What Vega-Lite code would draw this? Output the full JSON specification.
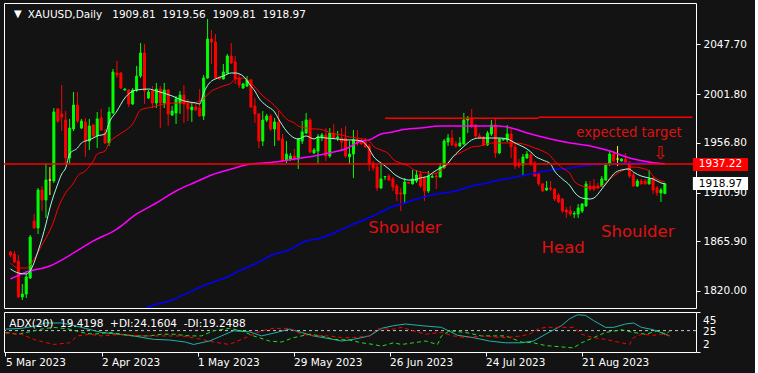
{
"$schema": "https://vega.github.io/schema/vega-lite/v6.json",
"background": "#131313",
"padding": {"left": 2, "top": 2, "right": 6, "bottom": 6},
"spacing": 2,
"config": {
  "view": {"stroke": "#ffffff", "strokeWidth": 1},
  "font": "DejaVu Sans",
  "axis": {"domain": false, "grid": false, "tickColor": "#ffffff", "labelColor": "#ffffff", "labelFont": "DejaVu Sans", "labelFontSize": 10.5, "labelOverlap": false}
},
"datasets": {
"one": [{}],
"lv": [{"v": 35.3, "t": "45"}, {"v": 23.5, "t": "25"}, {"v": 9.8, "t": "2"}],
"c": [
{"i":0,"o":1856.0,"h":1856.9,"l":1851.4,"c":1853.2},
{"i":1,"o":1854.2,"h":1856.9,"l":1845.8,"c":1846.8},
{"i":2,"o":1847.7,"h":1853.2,"l":1813.5,"c":1814.5},
{"i":3,"o":1814.5,"h":1826.5,"l":1811.7,"c":1817.2},
{"i":4,"o":1817.2,"h":1835.7,"l":1813.5,"c":1832.9},
{"i":5,"o":1832.0,"h":1871.7,"l":1831.1,"c":1869.8},
{"i":6,"o":1884.6,"h":1891.1,"l":1877.2,"c":1878.2},
{"i":7,"o":1878.2,"h":1915.1,"l":1872.6,"c":1913.2},
{"i":8,"o":1913.2,"h":1916.9,"l":1893.8,"c":1904.0},
{"i":9,"o":1904.0,"h":1938.1,"l":1887.4,"c":1922.4},
{"i":10,"o":1922.4,"h":1934.4,"l":1908.6,"c":1922.4},
{"i":11,"o":1921.5,"h":1988.9,"l":1919.7,"c":1985.2},
{"i":12,"o":1988.0,"h":1988.9,"l":1975.1,"c":1976.9},
{"i":13,"o":1983.4,"h":2010.1,"l":1967.7,"c":1980.6},
{"i":14,"o":1977.8,"h":1986.1,"l":1937.2,"c":1942.8},
{"i":15,"o":1942.8,"h":1978.8,"l":1937.2,"c":1970.4},
{"i":16,"o":1969.5,"h":2003.7,"l":1967.7,"c":1991.7},
{"i":17,"o":1991.7,"h":2003.7,"l":1975.1,"c":1976.9},
{"i":18,"o":1970.4,"h":1978.8,"l":1969.5,"c":1976.9},
{"i":19,"o":1976.0,"h":1979.7,"l":1943.7,"c":1958.4},
{"i":20,"o":1958.4,"h":1978.8,"l":1950.1,"c":1972.3},
{"i":21,"o":1973.2,"h":1974.1,"l":1961.2,"c":1963.1},
{"i":22,"o":1963.1,"h":1985.2,"l":1952.0,"c":1978.8},
{"i":23,"o":1979.7,"h":1988.0,"l":1967.7,"c":1968.6},
{"i":24,"o":1965.8,"h":1969.5,"l":1955.7,"c":1956.6},
{"i":25,"o":1956.6,"h":1989.8,"l":1953.8,"c":1985.2},
{"i":26,"o":1984.3,"h":2024.9,"l":1983.4,"c":2022.1},
{"i":27,"o":2021.2,"h":2032.3,"l":2016.6,"c":2019.4},
{"i":28,"o":2021.2,"h":2022.1,"l":2006.4,"c":2007.4},
{"i":29,"o":2005.5,"h":2007.0,"l":2005.0,"c":2006.4},
{"i":30,"o":2005.5,"h":2006.4,"l":1989.8,"c":1992.6},
{"i":31,"o":1992.6,"h":2007.4,"l":1991.7,"c":2005.5},
{"i":32,"o":2005.5,"h":2027.7,"l":2003.7,"c":2018.4},
{"i":33,"o":2018.4,"h":2048.9,"l":2016.6,"c":2039.7},
{"i":34,"o":2039.7,"h":2048.0,"l":1992.6,"c":2004.6},
{"i":35,"o":1998.1,"h":2005.5,"l":1997.2,"c":2003.7},
{"i":36,"o":2004.6,"h":2009.2,"l":1988.9,"c":1993.5},
{"i":37,"o":1993.5,"h":2012.0,"l":1988.9,"c":2006.4},
{"i":38,"o":2006.4,"h":2009.2,"l":1970.4,"c":1993.5},
{"i":39,"o":1993.5,"h":2012.0,"l":1988.9,"c":2005.5},
{"i":40,"o":2005.5,"h":2006.4,"l":1972.3,"c":1983.4},
{"i":41,"o":1982.4,"h":1990.8,"l":1981.5,"c":1986.1},
{"i":42,"o":1984.3,"h":2000.0,"l":1974.1,"c":1997.2},
{"i":43,"o":1993.5,"h":2004.6,"l":1983.4,"c":2000.9},
{"i":44,"o":2000.9,"h":2010.1,"l":1975.1,"c":1992.6},
{"i":45,"o":1992.6,"h":1997.2,"l":1976.9,"c":1988.0},
{"i":46,"o":1987.1,"h":1994.4,"l":1976.0,"c":1989.8},
{"i":47,"o":1989.8,"h":1992.6,"l":1986.1,"c":1987.1},
{"i":48,"o":1988.9,"h":2006.4,"l":1980.6,"c":1981.5},
{"i":49,"o":1981.5,"h":2019.4,"l":1977.8,"c":2016.6},
{"i":50,"o":2016.6,"h":2071.1,"l":2015.7,"c":2052.6},
{"i":51,"o":2052.6,"h":2060.9,"l":2029.5,"c":2049.8},
{"i":52,"o":2049.8,"h":2057.2,"l":2015.7,"c":2016.6},
{"i":53,"o":2017.5,"h":2018.0,"l":2015.2,"c":2015.7},
{"i":54,"o":2015.7,"h":2029.5,"l":2015.2,"c":2022.1},
{"i":55,"o":2021.2,"h":2038.8,"l":2020.3,"c":2036.9},
{"i":56,"o":2036.9,"h":2048.9,"l":2029.5,"c":2030.4},
{"i":57,"o":2031.4,"h":2036.9,"l":2011.1,"c":2015.7},
{"i":58,"o":2016.6,"h":2020.3,"l":2007.4,"c":2010.1},
{"i":59,"o":2007.4,"h":2012.0,"l":2006.4,"c":2011.1},
{"i":60,"o":2009.2,"h":2018.4,"l":2008.3,"c":2014.8},
{"i":61,"o":2014.8,"h":2015.7,"l":1988.9,"c":1989.8},
{"i":62,"o":1990.8,"h":1998.1,"l":1975.1,"c":1983.4},
{"i":63,"o":1983.4,"h":1984.3,"l":1952.0,"c":1958.4},
{"i":64,"o":1958.4,"h":1986.1,"l":1953.8,"c":1977.8},
{"i":65,"o":1977.8,"h":1983.4,"l":1976.0,"c":1981.5},
{"i":66,"o":1981.5,"h":1983.4,"l":1967.7,"c":1969.5},
{"i":67,"o":1969.5,"h":1979.7,"l":1953.8,"c":1976.0},
{"i":68,"o":1976.0,"h":1986.1,"l":1958.4,"c":1959.4},
{"i":69,"o":1960.3,"h":1964.9,"l":1939.1,"c":1940.0},
{"i":70,"o":1940.9,"h":1958.4,"l":1938.1,"c":1946.4},
{"i":71,"o":1941.8,"h":1947.4,"l":1940.0,"c":1944.6},
{"i":72,"o":1944.6,"h":1951.1,"l":1940.0,"c":1941.8},
{"i":73,"o":1941.8,"h":1961.2,"l":1932.6,"c":1960.3},
{"i":74,"o":1958.4,"h":1976.9,"l":1955.7,"c":1966.8},
{"i":75,"o":1965.8,"h":1984.3,"l":1964.9,"c":1977.8},
{"i":76,"o":1977.8,"h":1979.7,"l":1947.4,"c":1948.3},
{"i":77,"o":1947.4,"h":1952.0,"l":1946.4,"c":1950.1},
{"i":78,"o":1949.2,"h":1964.9,"l":1938.1,"c":1962.1},
{"i":79,"o":1961.2,"h":1965.8,"l":1958.4,"c":1964.0},
{"i":80,"o":1964.0,"h":1970.4,"l":1940.0,"c":1944.6},
{"i":81,"o":1944.6,"h":1970.4,"l":1942.8,"c":1965.8},
{"i":82,"o":1965.8,"h":1974.1,"l":1960.3,"c":1961.2},
{"i":83,"o":1961.2,"h":1967.7,"l":1958.4,"c":1962.1},
{"i":84,"o":1961.2,"h":1970.4,"l":1949.2,"c":1957.5},
{"i":85,"o":1961.2,"h":1972.3,"l":1942.8,"c":1944.6},
{"i":86,"o":1943.7,"h":1958.4,"l":1937.2,"c":1946.4},
{"i":87,"o":1946.4,"h":1968.6,"l":1924.3,"c":1959.4},
{"i":88,"o":1959.4,"h":1968.6,"l":1953.8,"c":1957.5},
{"i":89,"o":1958.4,"h":1961.2,"l":1955.2,"c":1955.7},
{"i":90,"o":1957.5,"h":1961.2,"l":1952.0,"c":1952.9},
{"i":91,"o":1953.8,"h":1955.7,"l":1930.8,"c":1938.1},
{"i":92,"o":1938.1,"h":1940.0,"l":1930.8,"c":1933.5},
{"i":93,"o":1934.4,"h":1937.2,"l":1912.3,"c":1915.1},
{"i":94,"o":1915.1,"h":1938.1,"l":1914.1,"c":1923.4},
{"i":95,"o":1925.2,"h":1926.1,"l":1922.4,"c":1925.6},
{"i":96,"o":1926.1,"h":1928.0,"l":1921.5,"c":1922.4},
{"i":97,"o":1923.4,"h":1925.2,"l":1912.3,"c":1916.0},
{"i":98,"o":1916.9,"h":1918.8,"l":1903.1,"c":1909.5},
{"i":99,"o":1910.5,"h":1915.1,"l":1893.8,"c":1909.5},
{"i":100,"o":1909.5,"h":1924.3,"l":1900.3,"c":1920.6},
{"i":101,"o":1920.3,"h":1920.6,"l":1919.2,"c":1919.5},
{"i":102,"o":1918.8,"h":1931.7,"l":1918.3,"c":1923.4},
{"i":103,"o":1921.5,"h":1931.7,"l":1919.7,"c":1927.1},
{"i":104,"o":1928.0,"h":1930.8,"l":1915.1,"c":1916.9},
{"i":105,"o":1924.3,"h":1926.1,"l":1903.1,"c":1912.3},
{"i":106,"o":1912.3,"h":1930.8,"l":1910.5,"c":1926.1},
{"i":107,"o":1925.0,"h":1928.0,"l":1924.3,"c":1925.7},
{"i":108,"o":1926.1,"h":1928.9,"l":1914.1,"c":1925.3},
{"i":109,"o":1925.2,"h":1938.1,"l":1924.3,"c":1934.4},
{"i":110,"o":1933.5,"h":1960.3,"l":1933.0,"c":1958.4},
{"i":111,"o":1957.5,"h":1964.9,"l":1953.8,"c":1961.2},
{"i":112,"o":1961.2,"h":1968.6,"l":1953.8,"c":1954.8},
{"i":113,"o":1955.7,"h":1958.4,"l":1952.0,"c":1953.8},
{"i":114,"o":1953.8,"h":1962.1,"l":1952.9,"c":1956.6},
{"i":115,"o":1955.7,"h":1984.3,"l":1954.8,"c":1977.8},
{"i":116,"o":1977.8,"h":1981.5,"l":1965.8,"c":1979.7},
{"i":117,"o":1979.7,"h":1988.0,"l":1970.4,"c":1972.3},
{"i":118,"o":1973.2,"h":1974.1,"l":1961.2,"c":1963.1},
{"i":119,"o":1963.1,"h":1965.8,"l":1960.3,"c":1961.2},
{"i":120,"o":1962.1,"h":1963.1,"l":1953.8,"c":1954.8},
{"i":121,"o":1954.8,"h":1967.7,"l":1953.8,"c":1965.8},
{"i":122,"o":1964.9,"h":1977.8,"l":1963.1,"c":1973.2},
{"i":123,"o":1973.2,"h":1978.8,"l":1942.8,"c":1947.4},
{"i":124,"o":1947.4,"h":1961.2,"l":1946.4,"c":1960.3},
{"i":125,"o":1959.4,"h":1961.2,"l":1958.9,"c":1960.0},
{"i":126,"o":1959.4,"h":1973.2,"l":1957.5,"c":1964.9},
{"i":127,"o":1964.9,"h":1969.5,"l":1942.8,"c":1952.9},
{"i":128,"o":1952.9,"h":1956.6,"l":1932.6,"c":1935.4},
{"i":129,"o":1938.1,"h":1941.8,"l":1933.5,"c":1935.4},
{"i":130,"o":1936.3,"h":1946.4,"l":1926.1,"c":1943.7},
{"i":131,"o":1942.8,"h":1949.2,"l":1941.8,"c":1946.4},
{"i":132,"o":1945.5,"h":1947.4,"l":1935.4,"c":1937.2},
{"i":133,"o":1938.1,"h":1940.0,"l":1925.2,"c":1926.1},
{"i":134,"o":1928.0,"h":1928.9,"l":1916.9,"c":1918.8},
{"i":135,"o":1918.8,"h":1919.7,"l":1911.4,"c":1912.3},
{"i":136,"o":1913.2,"h":1921.5,"l":1912.3,"c":1915.1},
{"i":137,"o":1915.1,"h":1921.5,"l":1912.3,"c":1914.1},
{"i":138,"o":1914.1,"h":1915.1,"l":1903.1,"c":1904.9},
{"i":139,"o":1908.6,"h":1910.5,"l":1901.2,"c":1902.1},
{"i":140,"o":1904.9,"h":1905.8,"l":1892.0,"c":1893.8},
{"i":141,"o":1894.8,"h":1897.5,"l":1887.4,"c":1892.9},
{"i":142,"o":1893.8,"h":1898.5,"l":1889.2,"c":1891.1},
{"i":143,"o":1891.0,"h":1893.8,"l":1887.4,"c":1891.6},
{"i":144,"o":1891.1,"h":1900.3,"l":1887.4,"c":1896.6},
{"i":145,"o":1893.8,"h":1901.2,"l":1892.0,"c":1900.3},
{"i":146,"o":1898.5,"h":1921.5,"l":1897.5,"c":1918.8},
{"i":147,"o":1916.9,"h":1921.5,"l":1912.3,"c":1914.1},
{"i":148,"o":1916.9,"h":1923.4,"l":1912.3,"c":1914.1},
{"i":149,"o":1916.9,"h":1919.7,"l":1914.1,"c":1915.1},
{"i":150,"o":1916.9,"h":1926.1,"l":1916.0,"c":1923.4},
{"i":151,"o":1922.4,"h":1938.1,"l":1921.5,"c":1937.2},
{"i":152,"o":1937.2,"h":1950.1,"l":1935.4,"c":1946.4},
{"i":153,"o":1946.4,"h":1949.2,"l":1939.1,"c":1940.0},
{"i":154,"o":1941.8,"h":1953.8,"l":1935.4,"c":1941.8},
{"i":155,"o":1940.0,"h":1942.3,"l":1939.5,"c":1941.8},
{"i":156,"o":1941.8,"h":1947.4,"l":1937.2,"c":1938.1},
{"i":157,"o":1939.1,"h":1940.0,"l":1924.3,"c":1926.1},
{"i":158,"o":1927.1,"h":1928.9,"l":1916.0,"c":1916.9},
{"i":159,"o":1916.9,"h":1923.4,"l":1916.0,"c":1921.5},
{"i":160,"o":1921.5,"h":1923.4,"l":1918.3,"c":1918.8},
{"i":161,"o":1921.5,"h":1923.4,"l":1918.3,"c":1918.8},
{"i":162,"o":1918.8,"h":1931.7,"l":1918.3,"c":1923.4},
{"i":163,"o":1924.3,"h":1924.8,"l":1909.5,"c":1913.2},
{"i":164,"o":1915.1,"h":1916.9,"l":1907.7,"c":1910.5},
{"i":165,"o":1910.5,"h":1915.1,"l":1902.1,"c":1913.2},
{"i":166,"o":1909.81,"h":1919.56,"l":1909.81,"c":1918.97}
],
"cy": [
{"i":0,"p":1840.3},{"i":2,"p":1836.6},{"i":4,"p":1835.7},{"i":5,"p":1838.5},{"i":7,"p":1856.9},{"i":9,"p":1881.8},{"i":10,"p":1896.6},{"i":12,"p":1918.8},{"i":13,"p":1928.0},{"i":14,"p":1933.5},{"i":15,"p":1946.4},{"i":17,"p":1952.0},{"i":18,"p":1956.6},{"i":19,"p":1958.4},{"i":20,"p":1959.4},{"i":22,"p":1963.1},{"i":24,"p":1964.9},{"i":25,"p":1975.1},{"i":27,"p":1986.1},{"i":29,"p":1998.1},{"i":32,"p":2005.5},{"i":35,"p":2006.4},{"i":37,"p":2004.6},{"i":41,"p":2000.0},{"i":44,"p":1995.4},{"i":47,"p":1993.5},{"i":48,"p":1992.6},{"i":49,"p":2002.8},{"i":51,"p":2013.8},{"i":52,"p":2015.7},{"i":54,"p":2018.4},{"i":56,"p":2021.2},{"i":57,"p":2021.2},{"i":59,"p":2018.4},{"i":61,"p":2009.2},{"i":62,"p":2004.6},{"i":63,"p":1998.1},{"i":65,"p":1990.8},{"i":67,"p":1985.2},{"i":68,"p":1978.8},{"i":70,"p":1967.7},{"i":72,"p":1961.2},{"i":73,"p":1960.3},{"i":75,"p":1963.1},{"i":77,"p":1960.3},{"i":78,"p":1962.1},{"i":80,"p":1961.2},{"i":83,"p":1960.3},{"i":85,"p":1959.4},{"i":87,"p":1959.4},{"i":89,"p":1958.4},{"i":91,"p":1951.1},{"i":92,"p":1944.6},{"i":94,"p":1938.1},{"i":96,"p":1932.6},{"i":97,"p":1928.9},{"i":99,"p":1924.3},{"i":101,"p":1922.4},{"i":102,"p":1922.4},{"i":104,"p":1924.3},{"i":106,"p":1926.1},{"i":107,"p":1928.9},{"i":109,"p":1933.5},{"i":111,"p":1938.1},{"i":112,"p":1942.8},{"i":114,"p":1950.1},{"i":116,"p":1956.6},{"i":117,"p":1959.4},{"i":119,"p":1961.2},{"i":121,"p":1961.2},{"i":124,"p":1961.2},{"i":126,"p":1960.3},{"i":128,"p":1956.6},{"i":132,"p":1948.3},{"i":133,"p":1944.6},{"i":135,"p":1940.9},{"i":137,"p":1937.2},{"i":138,"p":1930.8},{"i":140,"p":1923.4},{"i":142,"p":1916.9},{"i":143,"p":1911.4},{"i":145,"p":1905.8},{"i":147,"p":1904.9},{"i":148,"p":1905.8},{"i":150,"p":1914.1},{"i":152,"p":1923.4},{"i":153,"p":1928.0},{"i":155,"p":1931.7},{"i":157,"p":1932.6},{"i":158,"p":1929.8},{"i":160,"p":1926.1},{"i":162,"p":1924.3},{"i":163,"p":1923.4},{"i":165,"p":1919.7},{"i":166,"p":1918.8}
],
"rd": [
{"i":0,"p":1845.8},{"i":2,"p":1841.2},{"i":4,"p":1841.2},{"i":6,"p":1849.5},{"i":8,"p":1862.5},{"i":9,"p":1868.9},{"i":11,"p":1884.6},{"i":12,"p":1895.7},{"i":14,"p":1910.5},{"i":16,"p":1919.7},{"i":17,"p":1926.1},{"i":19,"p":1930.8},{"i":21,"p":1940.0},{"i":22,"p":1946.4},{"i":24,"p":1949.2},{"i":25,"p":1956.6},{"i":27,"p":1963.1},{"i":29,"p":1967.7},{"i":31,"p":1974.1},{"i":33,"p":1987.1},{"i":36,"p":1989.8},{"i":39,"p":1992.6},{"i":42,"p":1993.5},{"i":46,"p":1993.5},{"i":48,"p":1995.4},{"i":50,"p":2000.9},{"i":51,"p":2004.6},{"i":52,"p":2006.4},{"i":54,"p":2009.2},{"i":56,"p":2012.0},{"i":57,"p":2015.7},{"i":59,"p":2016.6},{"i":61,"p":2012.0},{"i":62,"p":2008.3},{"i":64,"p":2000.0},{"i":66,"p":1994.4},{"i":68,"p":1987.1},{"i":70,"p":1978.8},{"i":72,"p":1975.1},{"i":73,"p":1972.3},{"i":75,"p":1970.4},{"i":77,"p":1969.5},{"i":78,"p":1969.5},{"i":80,"p":1967.7},{"i":82,"p":1964.9},{"i":84,"p":1964.0},{"i":86,"p":1962.1},{"i":88,"p":1961.2},{"i":91,"p":1958.4},{"i":92,"p":1953.8},{"i":94,"p":1950.1},{"i":96,"p":1946.4},{"i":97,"p":1941.8},{"i":99,"p":1938.1},{"i":101,"p":1935.4},{"i":102,"p":1932.6},{"i":104,"p":1929.8},{"i":106,"p":1928.9},{"i":107,"p":1928.0},{"i":109,"p":1930.8},{"i":111,"p":1937.2},{"i":112,"p":1942.8},{"i":114,"p":1947.4},{"i":116,"p":1951.1},{"i":117,"p":1952.9},{"i":119,"p":1953.8},{"i":121,"p":1955.7},{"i":122,"p":1956.6},{"i":126,"p":1956.6},{"i":128,"p":1956.6},{"i":130,"p":1955.7},{"i":133,"p":1952.0},{"i":135,"p":1949.2},{"i":137,"p":1944.6},{"i":138,"p":1940.0},{"i":140,"p":1933.5},{"i":142,"p":1928.0},{"i":143,"p":1921.5},{"i":145,"p":1916.9},{"i":147,"p":1915.1},{"i":148,"p":1915.1},{"i":150,"p":1916.9},{"i":152,"p":1923.4},{"i":153,"p":1926.1},{"i":155,"p":1930.8},{"i":157,"p":1933.5},{"i":158,"p":1934.4},{"i":160,"p":1933.5},{"i":162,"p":1930.8},{"i":163,"p":1926.1},{"i":165,"p":1921.5},{"i":166,"p":1920.6}
],
"mg": [
{"i":0,"p":1831.1},{"i":4,"p":1837.5},{"i":10,"p":1843.1},{"i":16,"p":1855.1},{"i":21,"p":1866.2},{"i":27,"p":1877.2},{"i":32,"p":1891.1},{"i":37,"p":1901.2},{"i":42,"p":1912.3},{"i":47,"p":1920.6},{"i":51,"p":1927.1},{"i":56,"p":1932.6},{"i":61,"p":1937.2},{"i":64,"p":1938.1},{"i":67,"p":1939.1},{"i":72,"p":1941.8},{"i":77,"p":1944.6},{"i":82,"p":1948.3},{"i":85,"p":1951.1},{"i":89,"p":1958.4},{"i":91,"p":1959.4},{"i":94,"p":1964.9},{"i":97,"p":1966.8},{"i":99,"p":1968.6},{"i":104,"p":1970.4},{"i":109,"p":1972.3},{"i":114,"p":1972.3},{"i":119,"p":1972.3},{"i":124,"p":1972.3},{"i":127,"p":1970.4},{"i":132,"p":1964.9},{"i":137,"p":1960.3},{"i":142,"p":1956.6},{"i":147,"p":1953.8},{"i":152,"p":1949.2},{"i":157,"p":1942.8},{"i":162,"p":1939.1},{"i":164,"p":1938.1},{"i":166,"p":1937.2}
],
"bl": [
{"i":33,"p":1801.5},{"i":35,"p":1805.2},{"i":41,"p":1811.7},{"i":45,"p":1818.2},{"i":50,"p":1826.5},{"i":55,"p":1832.9},{"i":58,"p":1838.5},{"i":62,"p":1844.9},{"i":67,"p":1854.2},{"i":70,"p":1856.9},{"i":75,"p":1866.2},{"i":78,"p":1868.0},{"i":82,"p":1873.5},{"i":85,"p":1878.2},{"i":87,"p":1881.8},{"i":89,"p":1884.6},{"i":92,"p":1889.2},{"i":96,"p":1896.6},{"i":100,"p":1901.2},{"i":104,"p":1905.8},{"i":108,"p":1909.5},{"i":113,"p":1912.3},{"i":117,"p":1916.9},{"i":121,"p":1919.7},{"i":124,"p":1922.4},{"i":127,"p":1924.3},{"i":132,"p":1928.0},{"i":137,"p":1931.7},{"i":142,"p":1933.5},{"i":147,"p":1936.3},{"i":152,"p":1937.2},{"i":157,"p":1938.1},{"i":163,"p":1938.1}
],
"hl": [
{"a":95,"b":134,"p":1979.4},
{"a":134,"b":173,"p":1980.3}
],
"adx": [
{"i":0,"v":26.6},{"i":4,"v":27.4},{"i":8,"v":30.3},{"i":10,"v":33.2},{"i":14,"v":33.2},{"i":17,"v":30.6},{"i":20,"v":27.4},{"i":24,"v":23.0},{"i":28,"v":21.1},{"i":32,"v":19.3},{"i":37,"v":15.6},{"i":41,"v":14.9},{"i":45,"v":12.7},{"i":47,"v":10.1},{"i":51,"v":13.8},{"i":54,"v":19.3},{"i":57,"v":24.8},{"i":61,"v":23.7},{"i":64,"v":19.3},{"i":67,"v":22.2},{"i":71,"v":26.6},{"i":74,"v":23.0},{"i":77,"v":19.3},{"i":81,"v":16.3},{"i":84,"v":13.8},{"i":87,"v":15.6},{"i":91,"v":19.3},{"i":94,"v":27.4},{"i":97,"v":30.3},{"i":100,"v":32.1},{"i":104,"v":30.3},{"i":109,"v":28.5},{"i":113,"v":20.0},{"i":117,"v":17.4},{"i":121,"v":13.8},{"i":125,"v":11.9},{"i":129,"v":11.9},{"i":132,"v":13.8},{"i":135,"v":21.1},{"i":139,"v":30.3},{"i":141,"v":37.6},{"i":143,"v":42.0},{"i":145,"v":41.4},{"i":147,"v":35.8},{"i":150,"v":28.5},{"i":152,"v":28.5},{"i":155,"v":32.1},{"i":157,"v":33.2},{"i":159,"v":28.5},{"i":162,"v":25.9},{"i":165,"v":21.1},{"i":166,"v":19.42}
],
"pdi": [
{"i":0,"v":23.0},{"i":3,"v":21.1},{"i":6,"v":23.7},{"i":9,"v":26.6},{"i":12,"v":28.5},{"i":16,"v":26.6},{"i":19,"v":23.0},{"i":22,"v":21.1},{"i":26,"v":23.0},{"i":29,"v":21.1},{"i":32,"v":19.3},{"i":36,"v":19.3},{"i":39,"v":21.1},{"i":42,"v":21.1},{"i":46,"v":19.3},{"i":49,"v":19.3},{"i":52,"v":24.8},{"i":56,"v":27.4},{"i":59,"v":24.8},{"i":62,"v":19.3},{"i":66,"v":13.8},{"i":69,"v":12.7},{"i":72,"v":17.4},{"i":76,"v":21.1},{"i":79,"v":19.3},{"i":82,"v":15.6},{"i":86,"v":14.9},{"i":89,"v":11.9},{"i":92,"v":10.1},{"i":94,"v":8.3},{"i":97,"v":11.9},{"i":99,"v":10.1},{"i":102,"v":11.9},{"i":105,"v":13.8},{"i":108,"v":10.1},{"i":109,"v":19.3},{"i":111,"v":24.8},{"i":115,"v":23.0},{"i":119,"v":19.3},{"i":122,"v":19.3},{"i":125,"v":19.3},{"i":129,"v":12.7},{"i":132,"v":11.9},{"i":135,"v":8.9},{"i":139,"v":7.5},{"i":142,"v":6.4},{"i":144,"v":11.9},{"i":147,"v":17.4},{"i":150,"v":23.0},{"i":154,"v":25.9},{"i":157,"v":23.0},{"i":160,"v":21.1},{"i":163,"v":24.8},{"i":165,"v":21.1},{"i":166,"v":24.16}
],
"mdi": [
{"i":0,"v":22.2},{"i":4,"v":21.1},{"i":7,"v":15.6},{"i":12,"v":10.1},{"i":16,"v":11.9},{"i":18,"v":19.3},{"i":21,"v":21.1},{"i":24,"v":19.3},{"i":29,"v":21.1},{"i":34,"v":19.3},{"i":39,"v":19.3},{"i":44,"v":19.3},{"i":49,"v":15.6},{"i":52,"v":12.7},{"i":56,"v":10.1},{"i":59,"v":15.6},{"i":62,"v":21.1},{"i":64,"v":24.8},{"i":67,"v":27.4},{"i":71,"v":27.4},{"i":74,"v":21.1},{"i":77,"v":19.3},{"i":81,"v":19.3},{"i":84,"v":17.4},{"i":87,"v":17.4},{"i":91,"v":19.3},{"i":93,"v":26.8},{"i":97,"v":26.6},{"i":99,"v":28.5},{"i":102,"v":24.8},{"i":105,"v":21.1},{"i":109,"v":23.0},{"i":112,"v":19.3},{"i":115,"v":17.4},{"i":119,"v":19.3},{"i":122,"v":18.2},{"i":125,"v":17.4},{"i":129,"v":19.3},{"i":131,"v":21.1},{"i":133,"v":26.6},{"i":135,"v":28.5},{"i":139,"v":28.5},{"i":142,"v":28.5},{"i":144,"v":21.1},{"i":147,"v":17.4},{"i":150,"v":15.6},{"i":154,"v":11.9},{"i":156,"v":10.1},{"i":157,"v":17.4},{"i":159,"v":21.1},{"i":162,"v":20.0},{"i":164,"v":21.1},{"i":166,"v":19.25}
]
},
"vconcat": [
{
  "width": 692,
  "height": 305,
  "layer": [
    {
      "data": {"name": "c"},
      "mark": {"type": "rule", "strokeWidth": 1},
      "encoding": {
        "x": {"field": "i", "type": "quantitative", "scale": {"domain": [-0.375, 172.625], "nice": false, "zero": false}, "axis": null},
        "y": {"field": "l", "type": "quantitative", "scale": {"domain": [1804.3, 2085.8], "nice": false, "zero": false},
              "axis": {"orient": "right", "values": [1820, 1865.9, 1910.9, 1956.8, 2001.8, 2047.7], "format": ".2f", "tickSize": 4, "labelPadding": 3, "title": null}},
        "y2": {"field": "h"},
        "color": {"condition": [{"test": "datum.c > datum.o", "value": "#00ff00"}, {"test": "datum.c == datum.o", "value": "#ffff00"}], "value": "#ff0000"}
      }
    },
    {
      "data": {"name": "c"},
      "mark": {"type": "bar", "width": 2, "strokeWidth": 1},
      "encoding": {
        "x": {"field": "i", "type": "quantitative"},
        "y": {"field": "o", "type": "quantitative"},
        "y2": {"field": "c"},
        "color": {"condition": [{"test": "datum.c > datum.o", "value": "#00ff00"}, {"test": "datum.c == datum.o", "value": "#ffff00"}], "value": "#ff0000"},
        "stroke": {"condition": [{"test": "datum.c > datum.o", "value": "#00ff00"}, {"test": "datum.c == datum.o", "value": "#ffff00"}], "value": "#ff0000"}
      }
    },
    {
      "data": {"name": "bl"},
      "mark": {"type": "line", "color": "#0000ff", "strokeWidth": 1.5, "clip": true, "interpolate": "monotone"},
      "encoding": {"x": {"field": "i", "type": "quantitative"}, "y": {"field": "p", "type": "quantitative"}}
    },
    {
      "data": {"name": "mg"},
      "mark": {"type": "line", "color": "#ff00ff", "strokeWidth": 1.5, "clip": true, "interpolate": "monotone"},
      "encoding": {"x": {"field": "i", "type": "quantitative"}, "y": {"field": "p", "type": "quantitative"}}
    },
    {
      "data": {"name": "rd"},
      "mark": {"type": "line", "color": "#ff0000", "strokeWidth": 1, "clip": true, "interpolate": "monotone"},
      "encoding": {"x": {"field": "i", "type": "quantitative"}, "y": {"field": "p", "type": "quantitative"}}
    },
    {
      "data": {"name": "cy"},
      "mark": {"type": "line", "color": "#9fffdf", "strokeWidth": 1, "clip": true, "interpolate": "monotone"},
      "encoding": {"x": {"field": "i", "type": "quantitative"}, "y": {"field": "p", "type": "quantitative"}}
    },
    {
      "data": {"name": "one"},
      "mark": {"type": "rule", "color": "#ff0000", "strokeWidth": 1.5},
      "encoding": {"y": {"datum": 1937.22}}
    },
    {
      "data": {"name": "hl"},
      "mark": {"type": "rule", "color": "#ff0000", "strokeWidth": 1.5, "clip": true},
      "encoding": {"x": {"field": "a", "type": "quantitative"}, "x2": {"field": "b"}, "y": {"field": "p", "type": "quantitative"}}
    },
    {
      "data": {"name": "one"},
      "mark": {"type": "text", "text": "Shoulder", "color": "#e01010", "fontSize": 16.5, "font": "DejaVu Sans", "align": "center", "baseline": "alphabetic"},
      "encoding": {"x": {"datum": 100.05}, "y": {"datum": 1873.5}}
    },
    {
      "data": {"name": "one"},
      "mark": {"type": "text", "text": "Head", "color": "#e01010", "fontSize": 16.5, "font": "DejaVu Sans", "align": "center", "baseline": "alphabetic"},
      "encoding": {"x": {"datum": 140.2}, "y": {"datum": 1855.3}}
    },
    {
      "data": {"name": "one"},
      "mark": {"type": "text", "text": "Shoulder", "color": "#e01010", "fontSize": 16.5, "font": "DejaVu Sans", "align": "center", "baseline": "alphabetic"},
      "encoding": {"x": {"datum": 159.1}, "y": {"datum": 1870.1}}
    },
    {
      "data": {"name": "one"},
      "mark": {"type": "text", "text": "expected target", "color": "#e01010", "fontSize": 13.2, "font": "DejaVu Sans", "align": "center", "baseline": "alphabetic"},
      "encoding": {"x": {"datum": 156.9}, "y": {"datum": 1962.1}}
    },
    {
      "data": {"name": "one"},
      "mark": {"type": "text", "text": "⇩", "color": "#e01010", "fontSize": 18, "font": "DejaVu Sans", "align": "center", "baseline": "middle"},
      "encoding": {"x": {"datum": 164.9}, "y": {"datum": 1946.5}}
    },
    {
      "data": {"name": "one"},
      "mark": {"type": "text", "text": "▼", "color": "#ffffff", "fontSize": 10, "font": "DejaVu Sans", "align": "center", "baseline": "alphabetic"},
      "encoding": {"x": {"datum": 1.9}, "y": {"datum": 2073.3}}
    },
    {
      "data": {"name": "one"},
      "mark": {"type": "text", "text": "XAUUSD,Daily\u00a0\u00a0 1909.81\u00a0 1919.56\u00a0 1909.81\u00a0 1918.97", "color": "#ffffff", "fontSize": 10.5, "font": "DejaVu Sans", "align": "left", "baseline": "alphabetic"},
      "encoding": {"x": {"datum": 4.4}, "y": {"datum": 2072.3}}
    },
    {
      "data": {"name": "one"},
      "mark": {"type": "rect", "color": "#ff0000"},
      "encoding": {"x": {"datum": 173.1}, "x2": {"datum": 187.1}, "y": {"datum": 1942.8}, "y2": {"datum": 1930.8}}
    },
    {
      "data": {"name": "one"},
      "mark": {"type": "text", "text": "1937.22", "color": "#ffffff", "fontSize": 10.5, "font": "DejaVu Sans", "align": "center", "baseline": "middle"},
      "encoding": {"x": {"datum": 180.1}, "y": {"datum": 1936.9}}
    },
    {
      "data": {"name": "one"},
      "mark": {"type": "rect", "color": "#ffffff"},
      "encoding": {"x": {"datum": 173.1}, "x2": {"datum": 187.1}, "y": {"datum": 1925.2}, "y2": {"datum": 1913.2}}
    },
    {
      "data": {"name": "one"},
      "mark": {"type": "text", "text": "1918.97", "color": "#000000", "fontSize": 10.5, "font": "DejaVu Sans", "align": "center", "baseline": "middle"},
      "encoding": {"x": {"datum": 180.1}, "y": {"datum": 1919.2}}
    }
  ]
},
{
  "width": 692,
  "height": 40,
  "layer": [
    {
      "data": {"name": "one"},
      "mark": {"type": "rule", "color": "#c8c8c8", "strokeWidth": 1, "strokeDash": [3, 3]},
      "encoding": {
        "y": {"datum": 25, "type": "quantitative", "scale": {"domain": [2, 45], "nice": false, "zero": false},
              "axis": {"orient": "right", "values": [2, 25, 45], "tickSize": 4, "labels": false, "title": null}}
      }
    },
    {
      "data": {"name": "adx"},
      "mark": {"type": "line", "color": "#20b2aa", "strokeWidth": 1, "clip": true},
      "encoding": {
        "x": {"field": "i", "type": "quantitative", "scale": {"domain": [-0.375, 172.625], "nice": false, "zero": false},
              "axis": {"orient": "bottom", "values": [0, 24, 48, 72, 96, 120, 144], "tickSize": 4, "labelPadding": 1, "labelAlign": "left", "labelFlush": false, "title": null,
                       "labelExpr": "datum.value==0?'5 Mar 2023':datum.value==24?'2 Apr 2023':datum.value==48?'1 May 2023':datum.value==72?'29 May 2023':datum.value==96?'26 Jun 2023':datum.value==120?'24 Jul 2023':'21 Aug 2023'"}},
        "y": {"field": "v", "type": "quantitative"}
      }
    },
    {
      "data": {"name": "pdi"},
      "mark": {"type": "line", "color": "#22dd22", "strokeWidth": 1, "strokeDash": [4, 3], "clip": true},
      "encoding": {"x": {"field": "i", "type": "quantitative"}, "y": {"field": "v", "type": "quantitative"}}
    },
    {
      "data": {"name": "mdi"},
      "mark": {"type": "line", "color": "#ff0000", "strokeWidth": 1, "strokeDash": [4, 3], "clip": true},
      "encoding": {"x": {"field": "i", "type": "quantitative"}, "y": {"field": "v", "type": "quantitative"}}
    },
    {
      "data": {"name": "lv"},
      "mark": {"type": "text", "color": "#ffffff", "fontSize": 10.5, "font": "DejaVu Sans", "align": "left", "baseline": "middle"},
      "encoding": {"x": {"datum": 174.4}, "y": {"field": "v", "type": "quantitative"}, "text": {"field": "t", "type": "nominal"}}
    },
    {
      "data": {"name": "one"},
      "mark": {"type": "text", "text": "ADX(20)\u00a0 19.4198\u00a0 +DI:24.1604\u00a0 -DI:19.2488", "color": "#ffffff", "fontSize": 10.5, "font": "DejaVu Sans", "align": "left", "baseline": "middle"},
      "encoding": {"x": {"datum": 0.95}, "y": {"datum": 32.4}}
    }
  ]
}
]
}
